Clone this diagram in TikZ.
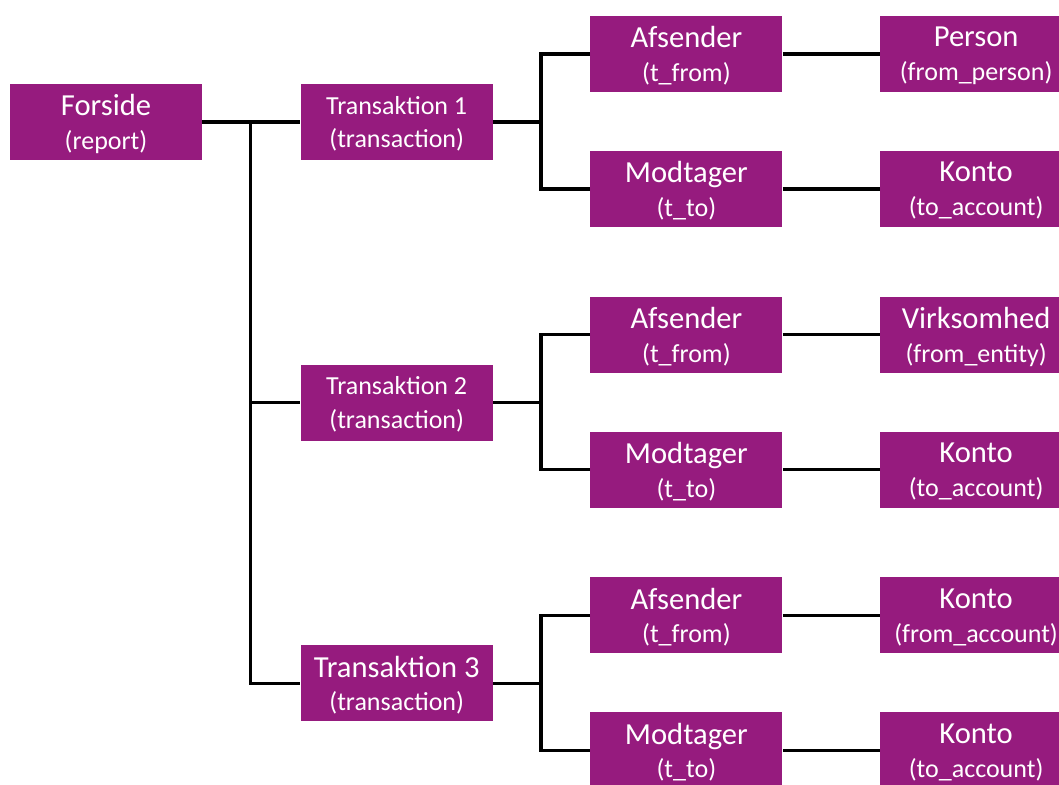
\documentclass[tikz,border=0pt]{standalone}
\usepackage{fontspec}
\setmainfont{Carlito}
\usetikzlibrary{positioning,calc}
\definecolor{boxpurple}{RGB}{150,27,126}
\newcommand{\sublabel}[1]{{\fontsize{14.8}{19.3}\selectfont #1}}

\begin{document}
\begin{tikzpicture}[
    box/.style={fill=boxpurple, text=white, align=center, inner sep=0pt, minimum width=3.84cm, minimum height=1.52cm, text depth=0pt, font=\fontsize{17.4}{19.3}\selectfont},
    smallbox/.style={box, font=\fontsize{14.8}{19.3}\selectfont},
    link/.style={draw=black, line width=1.9pt}]
    \useasboundingbox (0,0) rectangle (21.18,-15.7);
    \node[box] (report) at (2.12,-2.44) {Forside\\\sublabel{(report)}};
    \node[smallbox] (trans1) [right= 1.96cm of report] {Transaktion 1\\\sublabel{(transaction)}};
    \node[smallbox] (trans2) [below= 4.08cm of trans1] {Transaktion 2\\\sublabel{(transaction)}};
    \node[box] (trans3) [below= 4.08cm of trans2] {Transaktion 3\\\sublabel{(transaction)}};
    \foreach \i in {1,2,3} {
        \node[box] (from\i) [right= 1.94cm of trans\i, yshift=1.36cm] {Afsender\\\sublabel{(t\_from)}};
        \node[box] (to\i) [right= 1.94cm of trans\i, yshift=-1.34cm] {Modtager\\\sublabel{(t\_to)}};
    }
    \node[box] (ent1) [right= 1.94cm of from1] {Person\\\sublabel{(from\_person)}};
    \node[box] (acc1) [right= 1.94cm of to1] {Konto\\\sublabel{(to\_account)}};
    \node[box] (ent2) [right= 1.94cm of from2] {Virksomhed\\\sublabel{(from\_entity)}};
    \node[box] (acc2) [right= 1.94cm of to2] {Konto\\\sublabel{(to\_account)}};
    \node[box] (ent3) [right= 1.94cm of from3] {Konto\\\sublabel{(from\_account)}};
    \node[box] (acc3) [right= 1.94cm of to3] {Konto\\\sublabel{(to\_account)}};
    % tree lines
    \coordinate (j0) at ($(report.east)+(0.96,0)$);
    \draw[link] (report) -- (trans1) (j0) |- (trans2) (j0) |- (trans3);
    \foreach \i in {1,2,3} {
        \coordinate (j\i) at ($(trans\i.east)+(0.96,0)$);
        \draw[link] (trans\i) -- (j\i) (from\i) -| (j\i) |- (to\i);
        \draw[link] (from\i) -- (ent\i) (to\i) -- (acc\i);
    }
\end{tikzpicture}
\end{document}
